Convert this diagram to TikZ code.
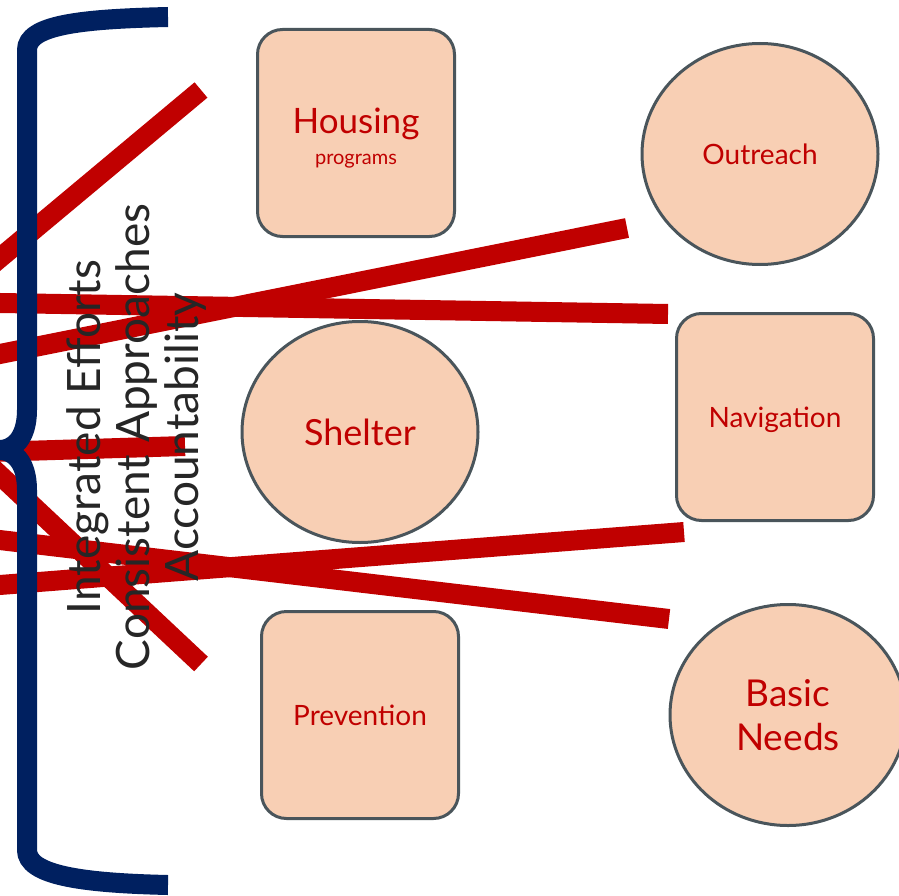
\documentclass[tikz,border=0pt]{standalone}
\usepackage{fontspec}
\setmainfont{Lato}
\usetikzlibrary{shapes.geometric}
\definecolor{peach}{HTML}{F8CFB4}
\definecolor{slate}{HTML}{4A555B}
\definecolor{darkred}{HTML}{C00000}
\definecolor{navy}{HTML}{002060}
\definecolor{txtgray}{HTML}{262626}
\begin{document}
\begin{tikzpicture}[x=1pt,y=-1pt,
	box/.style={draw=slate,fill=peach,line width=3pt,rounded corners=25pt,minimum width=197pt,minimum height=207pt,inner sep=0pt,text=darkred,align=center},
	blob/.style={draw=slate,fill=peach,line width=3pt,ellipse,minimum width=236pt,minimum height=221pt,inner sep=0pt,text=darkred,align=center},
	bar/.style={darkred,line width=20pt}]
		\useasboundingbox (0,0) rectangle (899,896);
		\clip (0,0) rectangle (899,896);
		% shapes
		\node[box,font=\fontsize{35}{33}\selectfont] (housing) at (356,133) {\raisebox{-8pt}[\height][\depth]{\begin{tabular}{@{}c@{}}Housing\\[-2pt]{\fontsize{20}{24}\selectfont programs}\end{tabular}}};
		\node[blob,font=\fontsize{28}{32}\selectfont] (outreach) at (760,154) {Outreach};
		\node[blob,font=\fontsize{36}{40}\selectfont] (shelter) at (360,432) {Shelter};
		\node[box,font=\fontsize{28}{32}\selectfont] (navigation) at (775,417) {\raisebox{-3pt}[\height][\depth]{Navigation}};
		\node[box,font=\fontsize{28}{32}\selectfont] (prevention) at (360,715) {Prevention};
		\node[blob,font=\fontsize{37}{44}\selectfont] (needs) at (788,715) {Basic\\Needs};
		% red bars
		\coordinate (s1) at (-30,283); \coordinate (e1) at (201,90);
		\coordinate (s2) at (-30,302.5); \coordinate (e2) at (668,314);
		\coordinate (s3) at (-30,360); \coordinate (e3) at (627,228);
		\coordinate (s4) at (-10,452); \coordinate (e4) at (185,446);
		\coordinate (s5) at (-30,447); \coordinate (e5) at (201,664);
		\coordinate (s6) at (-30,536.5); \coordinate (e6) at (669,619);
		\coordinate (s7) at (-30,587.3); \coordinate (e7) at (684,532);
		\foreach \i in {1,...,7} \draw[bar] (s\i) -- (e\i);
		% brace
		\draw[navy,line width=20pt] (168,17) .. controls (80,19) and (27,25) .. (27,50) -- (27,410) .. controls (27,440) and (12,450) .. (0,450) .. controls (12,450) and (27,460) .. (27,490) -- (27,850) .. controls (27,875) and (80,883) .. (168,885);
		\node[rotate=90,align=center,text=txtgray,font=\fontsize{46}{49}\selectfont] (motto) at (137,437) {Integrated Efforts\\Consistent Approaches\\Accountability};
\end{tikzpicture}
\end{document}
